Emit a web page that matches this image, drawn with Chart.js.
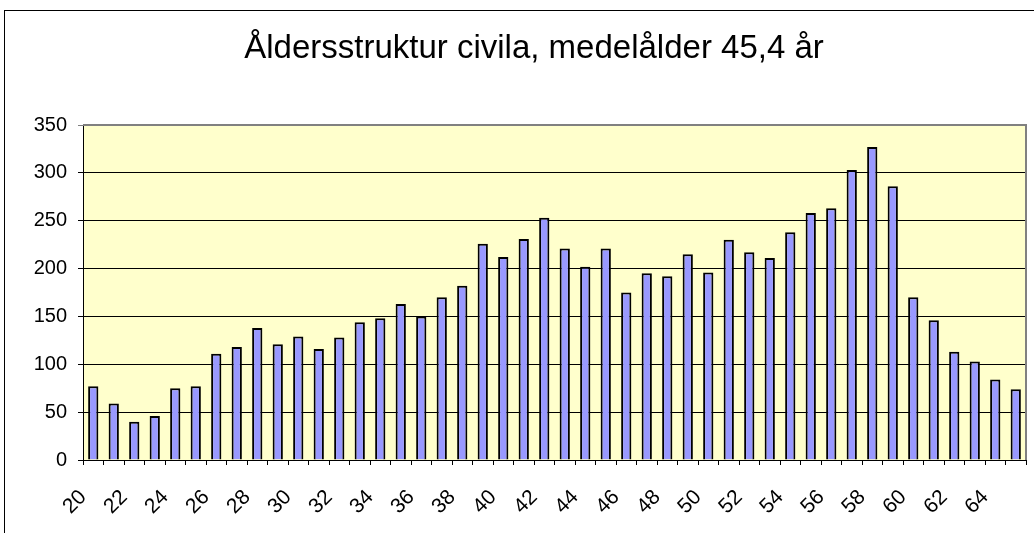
<!DOCTYPE html>
<html>
<head>
<meta charset="utf-8">
<script src="https://cdn.jsdelivr.net/npm/chart.js@4"></script>
<style>
  body { margin: 0; background: #fff; overflow: hidden; }
  #wrap { position: relative; width: 1034px; height: 533px; }
  #frame {
    position: absolute; left: 4px; top: 10px;
    width: 1100px; height: 600px;
    border: 1px solid #000;
  }
  canvas { position: absolute; left: 0; top: 0; }
</style>
</head>
<body>
<div id="wrap">
  <div id="frame"></div>
  <canvas id="ageChart" width="1034" height="533"></canvas>
</div>
<script>
// ages 20..65
const ages = [
  20, 21, 22, 23, 24, 25, 26, 27, 28, 29,
  30, 31, 32, 33, 34, 35, 36, 37, 38, 39,
  40, 41, 42, 43, 44, 45, 46, 47, 48, 49,
  50, 51, 52, 53, 54, 55, 56, 57, 58, 59,
  60, 61, 62, 63, 64, 65,
];
const antal = [
  77, 59, 40, 46, 75, 77, 111, 118, 138, 121,
  129, 116, 128, 144, 148, 163, 150, 170, 182, 226,
  212, 231, 253, 221, 202, 221, 175, 195, 192, 215,
  196, 230, 217, 211, 238, 258, 263, 303, 327, 286,
  170, 146, 113, 103, 84, 74,
];
const yTicks = [0, 50, 100, 150, 200, 250, 300, 350];
const title = "Åldersstruktur civila, medelålder 45,4 år";

// yellow plot area, gray top/right border, and the title
// (title centred on the whole Excel chart frame, not the canvas)
const plotBg = {
  id: "plotBg",
  beforeDraw(chart) {
    const { ctx, chartArea: a } = chart;
    ctx.save();
    ctx.fillStyle = "#FFFFCC";
    ctx.fillRect(a.left, a.top, a.right - a.left, a.bottom - a.top);
    ctx.restore();
  },
  afterDatasetsDraw(chart) {
    const { ctx, chartArea: a } = chart;
    ctx.save();
    ctx.strokeStyle = "#808080";
    ctx.lineWidth = 2;
    ctx.beginPath();
    ctx.moveTo(a.left, a.top);
    ctx.lineTo(a.right, a.top);
    ctx.lineTo(a.right, a.bottom);
    ctx.stroke();
    ctx.restore();
  },
  afterDraw(chart) {
    const ctx = chart.ctx;
    ctx.save();
    ctx.fillStyle = "#000";
    ctx.font = "33px 'Liberation Sans'";
    ctx.textAlign = "center";
    ctx.textBaseline = "alphabetic";
    ctx.fillText(title, 534, 58);
    ctx.restore();
  },
};

const ctx = document.getElementById("ageChart").getContext("2d");
new Chart(ctx, {
  type: "bar",
  data: {
    labels: ages,
    datasets: [
      {
        label: "Antal",
        data: antal,
        backgroundColor: "#9999FF",
        borderColor: "#000000",
        borderWidth: 2,
        borderSkipped: "bottom",
        barPercentage: 0.5,
        categoryPercentage: 1.0,
      },
    ],
  },
  plugins: [plotBg],
  options: {
    responsive: false,
    animation: false,
    layout: { padding: { left: 0, right: 8, top: 125, bottom: 0 } },
    plugins: {
      legend: { display: false },
      tooltip: { enabled: false },
      title: { display: false },
    },
    scales: {
      x: {
        afterFit: (scale) => {
          scale.height = 73;
          scale.paddingLeft = 0;
          scale.paddingRight = 0;
        },
        grid: {
          display: true,
          offset: true,
          drawOnChartArea: false,
          tickLength: 5,
          color: "#000",
        },
        border: { color: "#000", width: 1 },
        ticks: {
          autoSkip: false,
          maxRotation: 45,
          minRotation: 45,
          padding: 20,
          labelOffset: -10,
          color: "#000",
          font: { family: "Liberation Sans", size: 21 },
          callback: function (val, i) {
            return i % 2 === 0 ? ages[i] : "";
          },
        },
      },
      y: {
        min: yTicks[0],
        max: yTicks[yTicks.length - 1],
        afterFit: (scale) => {
          scale.width = 83;
        },
        afterBuildTicks: (scale) => {
          scale.ticks = yTicks.map((v) => ({ value: v }));
        },
        grid: {
          color: (c) => (c.tick && c.tick.value === 350 ? "#808080" : "#000"),
          tickLength: 5,
        },
        border: { color: "#000", width: 1 },
        ticks: {
          padding: 11,
          color: "#000",
          font: { family: "Liberation Sans", size: 20 },
        },
      },
    },
  },
});
</script>
</body>
</html>
